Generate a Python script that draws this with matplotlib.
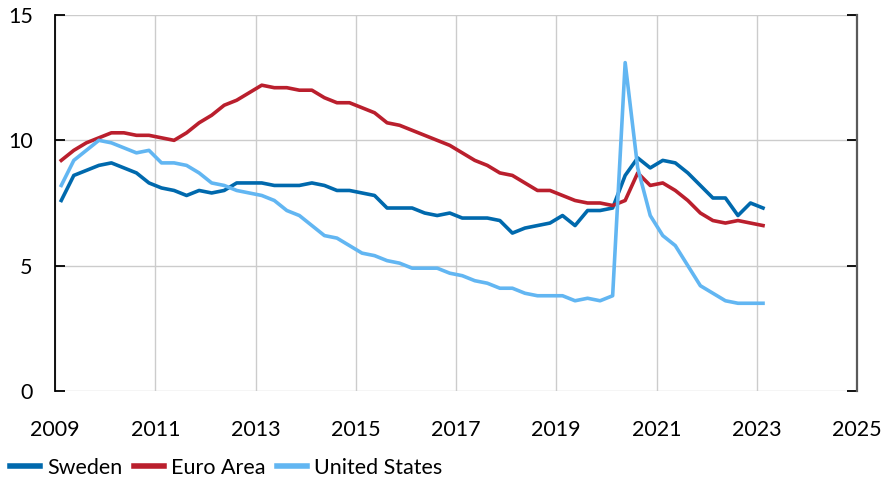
import numpy as np
import pandas as pd
import matplotlib
matplotlib.use("Agg")
import matplotlib.pyplot as plt

# quarterly unemployment, 2009Q1 - 2023Q1
quarters = pd.period_range("2009Q1", "2023Q1", freq="Q")

sweden = [7.6, 8.6, 8.8, 9.0,
          9.1, 8.9, 8.7, 8.3,
          8.1, 8.0, 7.8, 8.0,
          7.9, 8.0, 8.3, 8.3,
          8.3, 8.2, 8.2, 8.2,
          8.3, 8.2, 8.0, 8.0,
          7.9, 7.8, 7.3, 7.3,
          7.3, 7.1, 7.0, 7.1,
          6.9, 6.9, 6.9, 6.8,
          6.3, 6.5, 6.6, 6.7,
          7.0, 6.6, 7.2, 7.2,
          7.3, 8.6, 9.3, 8.9,
          9.2, 9.1, 8.7, 8.2,
          7.7, 7.7, 7.0, 7.5,
          7.3]

euro_area = [9.2, 9.6, 9.9, 10.1,
             10.3, 10.3, 10.2, 10.2,
             10.1, 10.0, 10.3, 10.7,
             11.0, 11.4, 11.6, 11.9,
             12.2, 12.1, 12.1, 12.0,
             12.0, 11.7, 11.5, 11.5,
             11.3, 11.1, 10.7, 10.6,
             10.4, 10.2, 10.0, 9.8,
             9.5, 9.2, 9.0, 8.7,
             8.6, 8.3, 8.0, 8.0,
             7.8, 7.6, 7.5, 7.5,
             7.4, 7.6, 8.7, 8.2,
             8.3, 8.0, 7.6, 7.1,
             6.8, 6.7, 6.8, 6.7,
             6.6]

united_states = [8.2, 9.2, 9.6, 10.0,
                 9.9, 9.7, 9.5, 9.6,
                 9.1, 9.1, 9.0, 8.7,
                 8.3, 8.2, 8.0, 7.9,
                 7.8, 7.6, 7.2, 7.0,
                 6.6, 6.2, 6.1, 5.8,
                 5.5, 5.4, 5.2, 5.1,
                 4.9, 4.9, 4.9, 4.7,
                 4.6, 4.4, 4.3, 4.1,
                 4.1, 3.9, 3.8, 3.8,
                 3.8, 3.6, 3.7, 3.6,
                 3.8, 13.1, 8.9, 7.0,
                 6.2, 5.8, 5.0, 4.2,
                 3.9, 3.6, 3.5, 3.5,
                 3.5]

year_ticks = [2009, 2011, 2013, 2015, 2017, 2019, 2021, 2023, 2025]
y_ticks = [0, 5, 10, 15]

# place each quarter at its middle
x = quarters.year + (quarters.quarter - 1) / 4 + 0.125

plt.rcParams["font.family"] = ["Lato", "DejaVu Sans"]

fig = plt.figure(figsize=(8.82, 4.8), dpi=100)
ax = fig.add_axes([55 / 882, 89 / 480, 802 / 882, 376 / 480])

ax.plot(x, sweden, color="#0069AD", lw=2.6, label="Sweden", zorder=3)
ax.plot(x, euro_area, color="#BA1F2D", lw=2.6, label="Euro Area", zorder=3)
ax.plot(x, united_states, color="#62B6F2", lw=2.6, label="United States", zorder=3)

ax.set_xlim(2009, 2025)
ax.set_ylim(0, 15)
ax.set_xticks(year_ticks)
ax.set_yticks(y_ticks)

ax.grid(True, color="#cccccc", lw=1.0, zorder=0)
ax.set_axisbelow(True)

ax.spines["top"].set_visible(False)
ax.spines["bottom"].set_visible(False)
ax.spines["left"].set_color("black")
ax.spines["left"].set_linewidth(1.3)
ax.spines["right"].set_color("#5a5a5a")
ax.spines["right"].set_linewidth(1.6)

ax.tick_params(axis="y", direction="in", length=7, width=1.3, color="black",
               labelsize=15.5, pad=16, right=True)
ax.tick_params(axis="x", length=0, labelsize=15.5, pad=21)
for t in ax.yaxis.get_ticklines()[1::2]:
    t.set_color("#222222")

leg = ax.legend(loc="lower left", bbox_to_anchor=(-45 / 802, -87 / 376), ncol=3,
                frameon=False, fontsize=15.5, handlelength=1.4, handletextpad=0.35,
                columnspacing=0.5, borderaxespad=0, borderpad=0)
for line in leg.get_lines():
    line.set_linewidth(4)

fig.savefig("out.png", dpi=100)
